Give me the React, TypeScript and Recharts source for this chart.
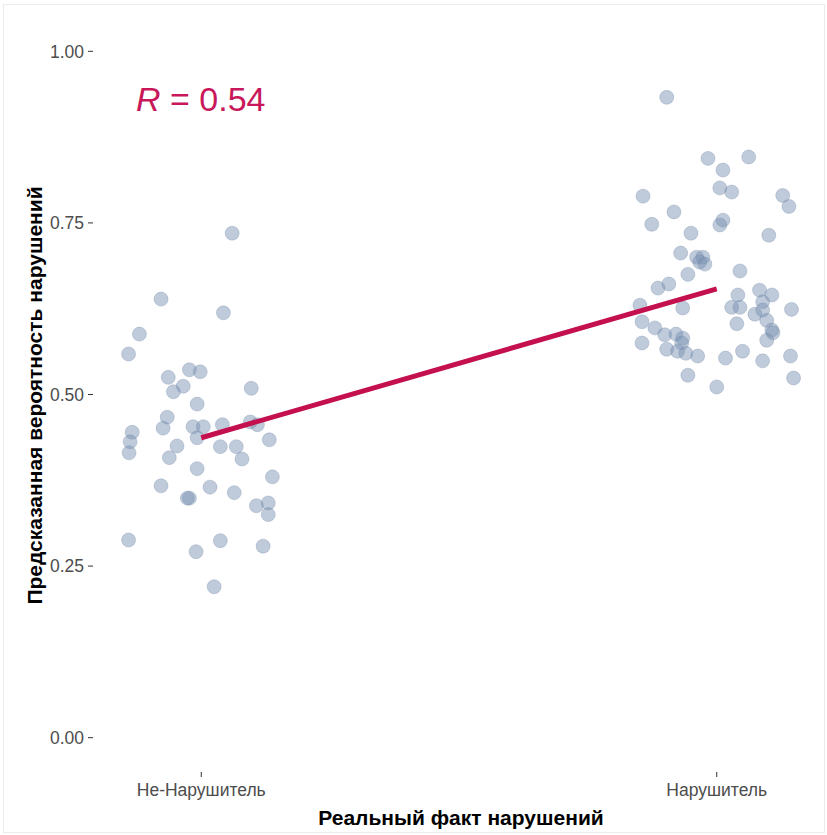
import React from 'react';
import { ScatterChart, Scatter, XAxis, YAxis } from 'recharts';

// jittered positions: 1 = Не-Нарушитель, 2 = Нарушитель
const nonViolatorX = [
  1.060, 0.922, 1.043, 0.880, 0.859, 0.977, 0.998, 0.936, 0.965, 0.946, 1.097, 0.992,
  0.934, 0.926, 0.984, 1.004, 1.041, 1.095, 1.109, 0.866, 0.862, 0.860, 0.992, 0.953,
  1.037, 1.068, 1.132, 0.938, 1.079, 0.992, 1.138, 0.922, 1.017, 0.977, 0.973, 1.064,
  1.107, 1.130, 1.130, 0.859, 1.037, 1.120, 0.990, 1.025,
];
const nonViolatorY = [
  0.735, 0.639, 0.619, 0.588, 0.559, 0.536, 0.533, 0.525, 0.512, 0.504, 0.509, 0.486,
  0.467, 0.451, 0.453, 0.453, 0.456, 0.460, 0.456, 0.445, 0.431, 0.415, 0.437, 0.425,
  0.424, 0.424, 0.434, 0.408, 0.406, 0.392, 0.380, 0.367, 0.365, 0.349, 0.349, 0.357,
  0.338, 0.342, 0.325, 0.288, 0.287, 0.279, 0.271, 0.220,
];
const violatorX = [
  1.903, 1.983, 2.062, 2.012, 2.006, 2.029, 1.857, 2.128, 2.140, 1.917, 1.874, 2.012,
  2.006, 1.950, 2.101, 1.930, 1.961, 1.973, 1.967, 1.977, 2.045, 1.944, 1.886, 1.907,
  2.041, 2.083, 2.107, 2.029, 2.045, 2.089, 2.089, 2.074, 1.851, 1.934, 2.145, 1.855,
  2.097, 1.880, 2.039, 2.107, 2.109, 1.899, 1.921, 1.934, 1.932, 1.855, 2.097, 1.903,
  1.924, 1.940, 1.963, 2.050, 2.017, 2.089, 2.143, 1.944, 2.149, 2.000,
];
const violatorY = [
  0.933, 0.844, 0.846, 0.827, 0.801, 0.795, 0.789, 0.790, 0.774, 0.766, 0.748, 0.754,
  0.747, 0.735, 0.732, 0.706, 0.700, 0.700, 0.693, 0.690, 0.680, 0.675, 0.655, 0.661,
  0.645, 0.652, 0.645, 0.627, 0.627, 0.635, 0.623, 0.617, 0.630, 0.626, 0.624, 0.606,
  0.608, 0.597, 0.603, 0.594, 0.590, 0.587, 0.588, 0.582, 0.575, 0.575, 0.579, 0.566,
  0.563, 0.560, 0.556, 0.563, 0.553, 0.549, 0.556, 0.528, 0.524, 0.511,
];

const fitX = [1, 2];
const fitY = [0.437, 0.654];

const categories = ['Не-Нарушитель', 'Нарушитель'];
const yTicks = [0, 0.25, 0.5, 0.75, 1];
const rLabel = '0.54';

const points = [
  ...nonViolatorX.map((x, i) => ({ x, y: nonViolatorY[i] })),
  ...violatorX.map((x, i) => ({ x, y: violatorY[i] })),
];
const fitLine = fitX.map((x, i) => ({ x, y: fitY[i] }));

const font = '"Liberation Sans", Arial, sans-serif';

const Dot = (props: any) => (
  <circle cx={props.cx} cy={props.cy} r={7} fill="#7890b0" fillOpacity={0.47} stroke="#6f86a6" strokeOpacity={0.3} strokeWidth={1} />
);

const YTitle = (props: any) => {
  const vb = props.viewBox;
  const cy = vb.y + vb.height / 2 + 1;
  return (
    <text x={34} y={cy} transform={`rotate(-90, 34, ${cy})`} textAnchor="middle" dominantBaseline="central"
      fontFamily={font} fontSize={21} fontWeight="bold" fill="#000">
      Предсказанная вероятность нарушений
    </text>
  );
};

const XTitle = (props: any) => {
  const vb = props.viewBox;
  return (
    <text x={vb.x + vb.width / 2 + 2} y={825} textAnchor="middle"
      fontFamily={font} fontSize={21} fontWeight="bold" fill="#000">
      Реальный факт нарушений
    </text>
  );
};

export default function App() {
  return (
    <div style={{ position: 'absolute', left: 0, top: 0, width: 827, height: 835, background: '#fff' }}>
      <div style={{ position: 'absolute', left: 3, top: 4, width: 822, height: 829, border: '1px solid #ebebeb', boxSizing: 'border-box' }} />
      <ScatterChart width={827} height={835} margin={{ top: 17, right: 2, left: 0, bottom: 0 }}>
        <XAxis
          type="number"
          dataKey="x"
          domain={[0.79, 2.21]}
          ticks={[1, 2]}
          tickFormatter={(v: number) => categories[Math.round(v) - 1]}
          axisLine={false}
          tickLine={{ stroke: '#333' }}
          tickSize={5}
          tickMargin={7}
          height={63}
          tick={{ fill: '#4d4d4d', fontSize: 17.5, fontFamily: font }}
          label={<XTitle />}
        />
        <YAxis
          type="number"
          dataKey="y"
          domain={[-0.05, 1.05]}
          ticks={yTicks}
          tickFormatter={(v: number) => v.toFixed(2)}
          axisLine={false}
          tickLine={{ stroke: '#333' }}
          tickSize={5}
          tickMargin={4}
          width={93}
          tick={{ fill: '#4d4d4d', fontSize: 17.5, fontFamily: font }}
          label={<YTitle />}
        />
        <Scatter data={points} shape={<Dot />} isAnimationActive={false} />
        <Scatter
          data={fitLine}
          line={{ stroke: '#c4104f', strokeWidth: 5 }}
          shape={() => <g />}
          isAnimationActive={false}
        />
      </ScatterChart>
      <div style={{ position: 'absolute', left: 136, top: 79, fontFamily: font, fontSize: 34, color: '#c8175a', lineHeight: '40px', whiteSpace: 'nowrap' }}>
        <span style={{ fontStyle: 'italic' }}>R</span> = {rLabel}
      </div>
    </div>
  );
}
